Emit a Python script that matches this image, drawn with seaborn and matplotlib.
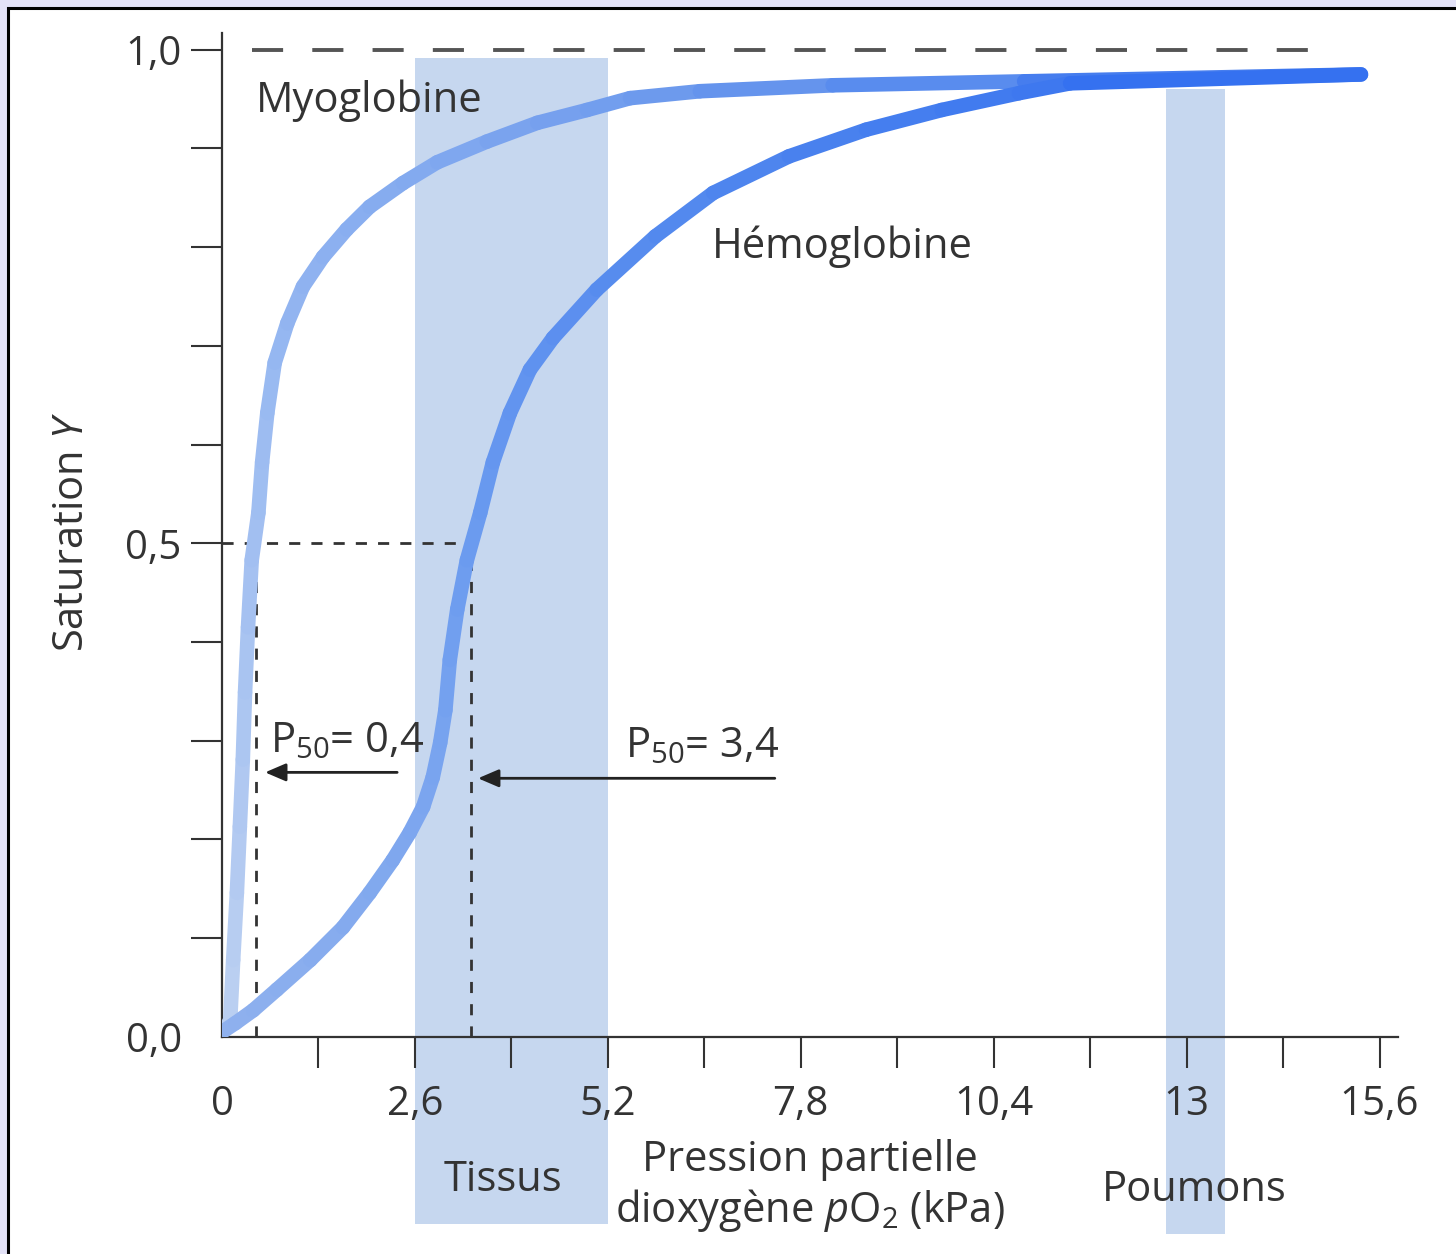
import numpy as np
import matplotlib
matplotlib.use("Agg")
import matplotlib.pyplot as plt
import seaborn as sns
from matplotlib.collections import LineCollection
from matplotlib.colors import LinearSegmentedColormap
from matplotlib.patches import Rectangle

# Oxygen binding curves
# pO2 in kPa, saturation Y between 0 and 1
myo_po2 = [0.04, 0.11, 0.15, 0.20, 0.24, 0.28, 0.31, 0.35, 0.40, 0.49, 0.54, 0.61, 0.71,
           0.88, 1.09, 1.36, 1.68, 1.99, 2.44, 2.90, 3.57, 4.25, 4.92, 5.50, 6.44, 8.23,
           10.81, 15.35]
myo_sat = [0.007, 0.017, 0.078, 0.146, 0.213, 0.281, 0.349, 0.415, 0.483, 0.531, 0.582, 0.632,
           0.683, 0.723, 0.760, 0.790, 0.818, 0.841, 0.865, 0.886, 0.907, 0.926, 0.939, 0.951,
           0.958, 0.964, 0.968, 0.975]

hb_po2 = [0.04, 0.18, 0.42, 0.74, 1.19, 1.63, 1.99, 2.30, 2.53, 2.71, 2.84, 2.94, 3.01, 3.07,
          3.17, 3.30, 3.48, 3.65, 3.88, 4.15, 4.46, 5.05, 5.84, 6.62, 7.64, 8.68, 9.70, 10.74,
          11.43, 15.35]
hb_sat = [0.007, 0.014, 0.027, 0.048, 0.078, 0.111, 0.146, 0.179, 0.207, 0.233, 0.263, 0.298,
          0.331, 0.382, 0.433, 0.483, 0.531, 0.582, 0.632, 0.676, 0.708, 0.757, 0.811, 0.855,
          0.892, 0.919, 0.939, 0.956, 0.966, 0.975]

# half-saturation pressures (guide line position and label)
p50_x = [0.46, 3.35]
p50_text = ["P$_{50}$= 0,4", "P$_{50}$= 3,4"]

# shaded pO2 ranges
band_names = ["Tissus", "Poumons"]
band_start = [2.6, 12.72]
band_end = [5.2, 13.52]
band_top = [0.992, 0.96]
band_bottom = [-0.19, -0.20]

x_ticks = [0, 1.3, 2.6, 3.9, 5.2, 6.5, 7.8, 9.1, 10.4, 11.7, 13, 14.3, 15.6]
x_labels = ["0", "", "2,6", "", "5,2", "", "7,8", "", "10,4", "", "13", "", "15,6"]
y_ticks = [0, 0.1, 0.2, 0.3, 0.4, 0.5, 0.6, 0.7, 0.8, 0.9, 1.0]
y_labels = ["0,0", "", "", "", "", "0,5", "", "", "", "", "1,0"]

sns.set_theme(style="white")
plt.rcParams["font.family"] = ["Open Sans", "DejaVu Sans"]
plt.rcParams["mathtext.fontset"] = "custom"
plt.rcParams["mathtext.rm"] = "Open Sans"
plt.rcParams["mathtext.it"] = "Open Sans:italic"

ink = "#333333"
fs = 30

fig = plt.figure(figsize=(14.56, 12.54), dpi=100, facecolor="#e3e2f7")
fig.patches.append(Rectangle((8 / 1456, -0.05), 1.2, 1.05 - 8 / 1254,
                             transform=fig.transFigure, facecolor="white",
                             edgecolor="black", lw=2.2, zorder=-5))
ax = fig.add_axes([0.1525, 0.1731, 0.8077, 0.8006])
ax.set_facecolor("none")
ax.set_xlim(0, 15.85)
ax.set_ylim(0, 1.017)

# shaded ranges (extend below the axis like in the book)
for name, s, e, t, b in zip(band_names, band_start, band_end, band_top, band_bottom):
    ax.bar(s, t - b, width=e - s, bottom=b, align="edge", color="#c6d7ef",
           clip_on=False, zorder=0.2, linewidth=0)

# reference line at full saturation
sns.lineplot(x=[0.4, 14.9], y=[1.0, 1.0], ax=ax, color="#555555", lw=2.8,
             linestyle=(0, (8, 7.5)), zorder=2)

# P50 guides
sns.lineplot(x=[0, p50_x[1] - 0.05], y=[0.5, 0.5], ax=ax, color=ink, lw=2,
             linestyle=(0, (4, 4)), zorder=2)
for px in p50_x:
    ax.plot([px, px], [0, 0.5], color=ink, lw=2, linestyle=(0, (4, 4)), zorder=2)


def gradient_line(xs, ys, colors, lw):
    pts = np.column_stack([xs, ys])
    disp = ax.transData.transform(pts)
    d = np.r_[0, np.cumsum(np.hypot(*np.diff(disp, axis=0).T))]
    t = d / d[-1]
    cmap = LinearSegmentedColormap.from_list("grad", colors)
    segs = np.stack([pts[:-1], pts[1:]], axis=1)
    lc = LineCollection(segs, colors=cmap((t[:-1] + t[1:]) / 2), linewidths=lw,
                        capstyle="round", joinstyle="round", zorder=3)
    ax.add_collection(lc)


gradient_line(myo_po2, myo_sat, ["#bcd0f1", "#9bbbf1", "#6796ed", "#3a74ef"], 10.5)
gradient_line(hb_po2, hb_sat, ["#8fb1ee", "#6c9cef", "#4a82ee", "#2e6bf1"], 10.5)

# arrows pointing at the P50 values
arrow = dict(arrowstyle="-|>,head_length=0.42,head_width=0.18", color="#222222",
             lw=2, mutation_scale=30, shrinkA=0, shrinkB=0)
ax.annotate("", xy=(0.58, 0.268), xytext=(2.36, 0.268), arrowprops=arrow)
ax.annotate("", xy=(3.45, 0.262), xytext=(7.45, 0.262), arrowprops=arrow)

ax.text(0.45, 0.948, "Myoglobine", fontsize=fs, color=ink, va="center", ha="left")
ax.text(6.6, 0.80, "Hémoglobine", fontsize=fs, color=ink, va="center", ha="left")
ax.text(0.64, 0.30, p50_text[0], fontsize=fs, color=ink, va="center", ha="left")
ax.text(5.43, 0.295, p50_text[1], fontsize=fs, color=ink, va="center", ha="left")
ax.text(3.79, -0.145, band_names[0], fontsize=fs, color=ink, va="center", ha="center")
ax.text(13.1, -0.155, band_names[1], fontsize=fs, color=ink, va="center", ha="center")

# axes
sns.despine(ax=ax)
for side in ["left", "bottom"]:
    ax.spines[side].set_color(ink)
    ax.spines[side].set_linewidth(1.6)
ax.set_xticks(x_ticks, x_labels)
ax.set_yticks(y_ticks, y_labels)
ax.tick_params(axis="both", direction="out", length=22, width=1.5, color=ink,
               labelsize=29, labelcolor=ink, bottom=True, left=True)
ax.tick_params(axis="x", pad=12)
ax.tick_params(axis="y", pad=7)
ax.xaxis.get_major_ticks()[0].tick1line.set_visible(False)
ax.yaxis.get_major_ticks()[0].tick1line.set_visible(False)

ax.set_ylabel("Saturation $Y$", fontsize=fs, color=ink)
ax.yaxis.set_label_coords(-0.11, 0.503)
ax.set_xlabel("Pression partielle\ndioxygène $p$O$_2$ (kPa)", fontsize=fs,
              color=ink, linespacing=1.15)
ax.xaxis.set_label_coords(0.5, -0.102)

fig.savefig("out.png", dpi=100, facecolor=fig.get_facecolor())
